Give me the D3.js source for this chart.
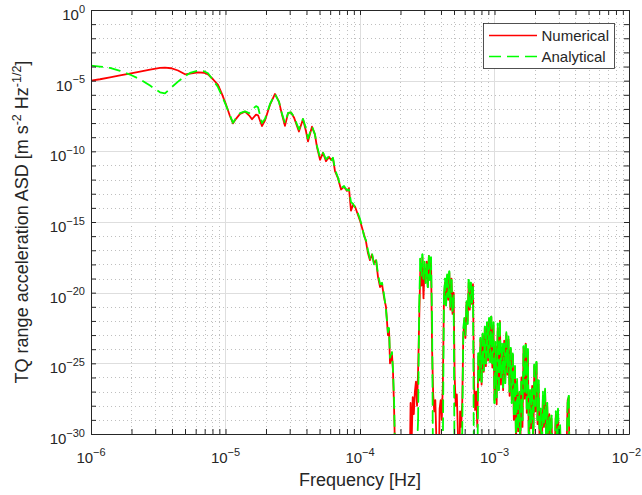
<!DOCTYPE html>
<html><head><meta charset="utf-8">
<script src="https://cdn.jsdelivr.net/npm/d3@7"></script>
<style>
body{margin:0;background:#fff}
svg{display:block}
text{font-family:"Liberation Sans",Arial,Helvetica,sans-serif;fill:#262626}
</style>
</head><body>
<svg id="chart" width="642" height="495"></svg>
<script>
// ---- data: log10 of frequency [Hz] and log10 of ASD [m s^-2 Hz^-1/2] ----
const frequencyExp = [
-6.000,-5.933,-5.859,-5.784,-5.703,-5.636,-5.561,-5.487,-5.450,-5.405,
-5.353,-5.301,-5.264,-5.204,-5.160,-5.130,-5.093,-5.056,-5.026,-4.996,
-4.967,-4.944,-4.922,-4.892,-4.855,-4.825,-4.803,-4.773,-4.758,-4.729,
-4.706,-4.669,-4.632,-4.602,-4.580,-4.558,-4.535,-4.513,-4.491,-4.454,
-4.424,-4.401,-4.387,-4.357,-4.335,-4.320,
-4.297,-4.275,-4.253,-4.230,-4.216,-4.201,-4.186,-4.164,-4.141,-4.119,
-4.097,-4.082,-4.067,-4.052,-4.037,-4.015,-4.000,-3.985,-3.970,-3.955,
-3.941,-3.926,-3.911,-3.896,-3.881,-3.866,-3.851,-3.836,-3.822,-3.807,
-3.792,-3.784,-3.777,-3.762,-3.755,-3.747,-3.740,-3.732,-3.703,
-3.632,-3.624,-3.616,-3.608,-3.600,-3.592,-3.584,-3.576,-3.568,-3.560,
-3.552,-3.544,-3.536,-3.528,-3.520,-3.512,-3.504,-3.496,-3.488,-3.480,
-3.472,-3.464,-3.456,-3.448,-3.440,-3.432,-3.424,-3.416,-3.408,-3.400,
-3.392,-3.384,-3.376,-3.368,-3.360,-3.352,-3.344,-3.336,-3.328,-3.320,
-3.312,-3.304,-3.296,-3.288,-3.280,-3.272,-3.264,-3.256,-3.248,-3.240,
-3.232,-3.224,-3.216,-3.208,-3.200,-3.192,-3.184,-3.176,-3.168,-3.160,
-3.152,-3.144,-3.136,-3.128,-3.120,-3.112,-3.104,-3.096,-3.088,-3.080,
-3.072,-3.064,-3.056,-3.048,-3.040,-3.032,-3.024,-3.016,-3.008,-3.000,
-2.992,-2.984,-2.976,-2.968,-2.960,-2.952,-2.944,-2.936,-2.928,-2.920,
-2.912,-2.904,-2.896,-2.888,-2.880,-2.872,-2.864,-2.856,-2.848,-2.840,
-2.832,-2.824,-2.816,-2.808,-2.800,-2.792,-2.784,-2.776,-2.768,-2.760,
-2.752,-2.744,-2.736,-2.728,-2.720,-2.712,-2.704,-2.696,-2.688,-2.680,
-2.672,-2.664,-2.656,-2.648,-2.640,-2.632,-2.624,-2.616,-2.608,-2.600,
-2.592,-2.584,-2.576,-2.568,-2.560,-2.552,-2.544,-2.536,-2.528,-2.520,
-2.512,-2.504,-2.496,-2.488,-2.480,-2.472,-2.464,-2.456,-2.448,-2.440,
-2.432
];
const numericalExp = [
-5.00,-4.90,-4.77,-4.63,-4.48,-4.36,-4.22,-4.10,-4.08,-4.12,
-4.28,-4.55,-4.50,-4.41,-4.44,-4.56,-4.90,-5.30,-5.95,-6.70,
-7.50,-8.02,-7.70,-7.35,-7.19,-7.45,-7.73,-7.40,-7.45,-8.21,
-7.80,-6.70,-5.94,-6.50,-7.40,-8.20,-7.30,-7.25,-7.60,-8.60,
-7.73,-8.60,-9.30,-8.26,-8.80,-9.70,
-10.60,-10.10,-10.70,-10.40,-10.60,-10.50,-11.40,-11.90,-12.70,-12.50,
-12.80,-12.60,-14.20,-13.80,-13.90,-14.50,-14.90,-15.40,-15.90,-16.40,
-17.20,-17.70,-17.30,-17.90,-17.70,-18.90,-19.60,-19.40,-20.30,-21.00,
-23.00,-22.60,-25.00,-24.40,-25.50,-28.00,-31.00,-34,-34,
-34,-27.8,-30.5,-27.4,-28.6,-27.0,-26.3,-28.0,-25.5,-22.0,
-18.5,-19.5,-17.5,-20.4,-18.3,-19.0,-17.8,-19.6,-17.4,-18.8,
-17.6,-24.0,-27.2,-28.4,-27.6,-30.5,-34,-34,-28.2,-27.6,
-29.0,-26.5,-20.5,-19.3,-20.8,-18.9,-20.5,-18.6,-21.2,-19.0,
-21.5,-20.0,-26.0,-28.0,-27.2,-30.0,-34,-28.4,-29.5,-27.8,
-23.0,-22.0,-23.2,-20.7,-22.0,-19.3,-21.2,-19.5,-20.8,-19.4,
-26.5,-28.3,-27.0,-29.5,-24.5,-26.2,-23.3,-26.5,-23.0,-25.6,
-22.5,-25.2,-22.3,-24.8,-21.9,-24.5,-21.7,-25.3,-22.3,-27.6,
-23.8,-27.9,-22.5,-26.8,-22.0,-26.5,-23.9,-26.9,-23.4,-26.2,
-22.9,-25.8,-23.3,-27.3,-24.0,-27.6,-24.4,-29.0,-25.5,-30.5,
-26.3,-29.8,-27.1,-31,-26.0,-29.5,-23.9,-27.5,-23.6,-28.5,
-24.2,-31,-27.0,-29.6,-26.6,-31,-25.2,-28.4,-25.0,-29.3,
-26.5,-31,-28.5,-31,-27.3,-29.5,-26.9,-30.0,-28.0,-31,
-28.6,-30.2,-28.9,-32,-34,-31,-28.6,-30.5,-28.3,-31,
-29.5,-34,-34,-34,-34,-34,-31,-27.6,-27.4,-34,
-34
];
const analyticalExp = [
-3.94,-4.00,-4.10,-4.30,-4.60,-4.90,-5.35,-5.82,-5.90,-5.50,
-5.07,-4.68,-4.45,-4.29,-4.33,-4.48,-4.95,-5.45,-6.10,-6.75,
-7.45,-7.98,-7.65,-7.30,-7.17,-7.30,-7.05,-6.80,-6.88,-8.00,
-7.70,-6.65,-5.95,-6.50,-7.35,-8.00,-7.28,-7.25,-7.55,-8.45,
-7.70,-8.40,-9.10,-8.25,-8.80,-9.60,
-10.45,-10.10,-10.55,-10.35,-10.70,-10.45,-11.30,-11.85,-12.60,-12.45,
-12.75,-12.70,-13.60,-13.70,-14.00,-14.40,-14.80,-15.30,-16.00,-16.30,
-17.00,-17.60,-17.20,-18.00,-17.60,-18.70,-19.40,-19.30,-20.10,-21.20,
-22.80,-22.50,-24.60,-24.20,-25.40,-27.50,-31.00,-34,-34,
-34,-34,-34,-34,-34,-34,-34,-31,-29,-21.0,
-17.6,-18.8,-17.3,-19.0,-17.8,-19.3,-18.0,-19.6,-17.4,-19.1,
-17.5,-22.0,-34,-34,-34,-34,-34,-34,-34,-34,
-34,-31,-20.3,-19.0,-20.9,-18.7,-20.3,-18.5,-21.0,-19.1,
-21.3,-20.2,-34,-34,-34,-34,-34,-34,-34,-30,
-22.5,-21.8,-23.0,-20.6,-22.2,-19.1,-21.0,-19.3,-20.7,-19.6,
-34,-34,-34,-34,-24.3,-26.0,-23.2,-26.3,-22.9,-25.5,
-22.4,-25.0,-22.1,-24.6,-21.8,-24.9,-21.7,-25.0,-22.1,-27.8,
-23.5,-27.4,-22.2,-26.9,-22.1,-26.0,-23.6,-26.7,-23.6,-26.4,
-22.8,-25.6,-23.1,-27.0,-23.9,-27.8,-24.3,-28.6,-25.2,-31,
-26.1,-29.5,-27.0,-31,-26.3,-29.0,-23.8,-27.0,-23.7,-28.2,
-24.0,-32,-26.9,-29.2,-26.8,-31,-25.1,-28.0,-24.9,-29.0,
-26.2,-31,-28.2,-32,-27.0,-29.2,-26.8,-30.5,-27.8,-31,
-28.8,-30.0,-28.7,-32,-34,-31,-28.4,-30.5,-28.2,-31,
-29.4,-34,-34,-34,-34,-34,-31,-27.8,-27.3,-34,
-34
];
const xTickExponents = [-6, -5, -4, -3, -2];
const yTickExponents = [0, -5, -10, -15, -20, -25, -30];
const seriesNames = ["Numerical", "Analytical"];
const seriesColors = ["#ff0000", "#00ff00"];
const xTitle = "Frequency [Hz]";

// ---- layout ----
const plot = {left: 91, right: 629, top: 10, bottom: 434};
const x = d3.scaleLog().domain([1e-6, 1e-2]).range([plot.left, plot.right]);
const y = d3.scaleLog().domain([1e-30, 1]).range([plot.bottom, plot.top]);
const svg = d3.select("#chart");
const axisColor = "#262626";
const lineW = 1.8;
const dash = "12,6";

const xMajor = xTickExponents.map(e => 10 ** e);
const xMinor = [];
for (let k = -6; k < -2; k++) for (let m = 2; m <= 9; m++) xMinor.push(m * 10 ** k);
const yMajor = yTickExponents.map(e => 10 ** e);
const yMinor = d3.range(-29, 0).filter(e => e % 5 !== 0).map(e => 10 ** e);
const yAllDecades = d3.range(-30, 1).map(e => 10 ** e);
const px = v => Math.round(v) + 0.5;

// ---- grid ----
const grid = svg.append("g");
grid.selectAll(".gxm").data(xMinor).join("line")
  .attr("x1", d => px(x(d))).attr("x2", d => px(x(d)))
  .attr("y1", plot.top).attr("y2", plot.bottom)
  .attr("stroke", "#bfbfbf").attr("stroke-dasharray", "1,3");
grid.selectAll(".gym").data(yMinor).join("line")
  .attr("y1", d => px(y(d))).attr("y2", d => px(y(d)))
  .attr("x1", plot.left).attr("x2", plot.right)
  .attr("stroke", "#bfbfbf").attr("stroke-dasharray", "1,3");
grid.selectAll(".gxM").data(xMajor).join("line")
  .attr("x1", d => px(x(d))).attr("x2", d => px(x(d)))
  .attr("y1", plot.top).attr("y2", plot.bottom)
  .attr("stroke", "#dedede");
grid.selectAll(".gyM").data(yMajor).join("line")
  .attr("y1", d => px(y(d))).attr("y2", d => px(y(d)))
  .attr("x1", plot.left).attr("x2", plot.right)
  .attr("stroke", "#dedede");

// ---- series ----
svg.append("clipPath").attr("id", "plotclip").append("rect")
  .attr("x", plot.left).attr("y", plot.top)
  .attr("width", plot.right - plot.left).attr("height", plot.bottom - plot.top);
const table = frequencyExp.map((f, i) => ({
  f: 10 ** f, num: 10 ** numericalExp[i], ana: 10 ** analyticalExp[i]
}));
const gLines = svg.append("g").attr("clip-path", "url(#plotclip)");
const lineNum = d3.line().x(d => x(d.f)).y(d => y(d.num));
const lineAna = d3.line().x(d => x(d.f)).y(d => y(d.ana));
gLines.append("path").datum(table)
  .attr("d", lineNum)
  .attr("fill", "none").attr("stroke", seriesColors[0]).attr("stroke-width", lineW)
  .attr("stroke-linejoin", "round");
// dashed analytical line: continuous dash pattern in the smooth part,
// pattern restarting on every segment in the densely sampled part
const denseFrom = 84;
gLines.append("path").datum(table.slice(0, denseFrom + 1))
  .attr("d", lineAna)
  .attr("fill", "none").attr("stroke", seriesColors[1]).attr("stroke-width", lineW)
  .attr("stroke-linejoin", "round").attr("stroke-dasharray", dash);
gLines.selectAll(".anaSeg").data(d3.pairs(table.slice(denseFrom))).join("path")
  .attr("d", d => lineAna(d))
  .attr("fill", "none").attr("stroke", seriesColors[1]).attr("stroke-width", lineW)
  .attr("stroke-linecap", "round").attr("stroke-dasharray", dash);

// ---- axes (ticks inward, box) ----
const xTicks = [...xMajor, ...xMinor];
function styleAxis(g) {
  g.selectAll("path,line").attr("stroke", axisColor);
  g.selectAll("text").remove();
}
svg.append("g").attr("transform", `translate(0,${plot.bottom})`)
  .call(d3.axisBottom(x).tickValues(xTicks).tickSize(-5).tickSizeOuter(0).tickFormat(""))
  .call(styleAxis);
svg.append("g").attr("transform", `translate(0,${plot.top})`)
  .call(d3.axisTop(x).tickValues(xTicks).tickSize(-5).tickSizeOuter(0).tickFormat(""))
  .call(styleAxis);
svg.append("g").attr("transform", `translate(${plot.left},0)`)
  .call(d3.axisLeft(y).tickValues(yAllDecades).tickSize(-5).tickSizeOuter(0).tickFormat(""))
  .call(styleAxis);
svg.append("g").attr("transform", `translate(${plot.right},0)`)
  .call(d3.axisRight(y).tickValues(yAllDecades).tickSize(-5).tickSizeOuter(0).tickFormat(""))
  .call(styleAxis);

// ---- tick labels ----
const supText = e => (e < 0 ? "\u2212" + (-e) : String(e));
xTickExponents.forEach(e => {
  const t = svg.append("text").attr("x", x(10 ** e)).attr("y", plot.bottom + 29)
    .attr("text-anchor", "middle").attr("font-size", 15);
  t.append("tspan").text("10");
  t.append("tspan").attr("dy", -7.5).attr("font-size", 11).text(supText(e));
  const b = t.node().getBBox();
  if (b.x + b.width > 641) t.attr("x", x(10 ** e) - (b.x + b.width - 641));
});
yTickExponents.forEach(e => {
  const t = svg.append("text").attr("x", plot.left - 6).attr("y", y(10 ** e) + 10)
    .attr("text-anchor", "end").attr("font-size", 15);
  t.append("tspan").text("10");
  t.append("tspan").attr("dy", -7.5).attr("font-size", 11).text(supText(e));
});

// ---- axis titles ----
svg.append("text").attr("x", (plot.left + plot.right) / 2).attr("y", 486)
  .attr("text-anchor", "middle").attr("font-size", 18).text(xTitle);
const yT = svg.append("text")
  .attr("transform", `translate(28,${(plot.top + plot.bottom) / 2}) rotate(-90)`)
  .attr("text-anchor", "middle").attr("font-size", 18);
yT.append("tspan").text("TQ range acceleration ASD [m s");
yT.append("tspan").attr("dy", -7).attr("font-size", 12.5).text("-2");
yT.append("tspan").attr("dy", 7).text(" Hz");
yT.append("tspan").attr("dy", -7).attr("font-size", 12.5).text("-1/2");
yT.append("tspan").attr("dy", 7).text("]");

// ---- legend ----
const lg = svg.append("g");
lg.append("rect").attr("x", 483.5).attr("y", 23.5).attr("width", 131).attr("height", 45)
  .attr("fill", "#fff").attr("stroke", axisColor).attr("stroke-width", 0.8);
seriesNames.forEach((name, i) => {
  const cy = 35.5 + i * 21;
  lg.append("line").attr("x1", 489).attr("x2", 537).attr("y1", cy).attr("y2", cy)
    .attr("stroke", seriesColors[i]).attr("stroke-width", 1.5)
    .attr("stroke-dasharray", i === 1 ? dash : null);
  lg.append("text").attr("x", 541.5).attr("y", cy + 5.3).attr("font-size", 15).text(name);
});
</script>
</body></html>
